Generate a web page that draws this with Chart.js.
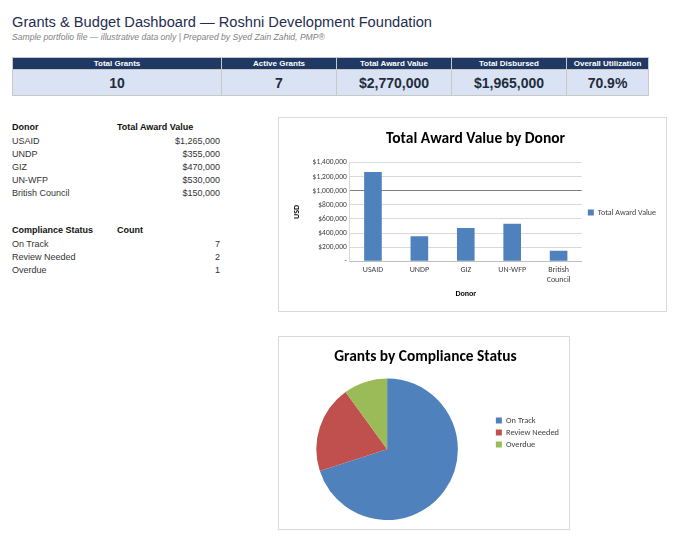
<!DOCTYPE html>
<html lang="en">
<head>
<meta charset="UTF-8">
<title>Grants & Budget Dashboard</title>
<style>
    body { margin: 0; background: #fff; font-family: "Liberation Sans", Arial, sans-serif; width: 680px; height: 543px; position: relative; overflow: hidden; }
    #title { position: absolute; left: 12px; top: 14px; font-size: 14.65px; color: #1f2d50; white-space: nowrap; }
    #subtitle { position: absolute; left: 12px; top: 32px; font-size: 8.6px; font-style: italic; color: #808080; white-space: nowrap; }
    #kpi { position: absolute; left: 12px; top: 57px; border-collapse: collapse; table-layout: fixed; }
    #kpi th { background: #1f3864; color: #fff; font-size: 8px; font-weight: bold; height: 11px; padding: 0; border: 1px solid #c8c8c8; }
    #kpi td { background: #dae3f3; color: #1f2d3d; font-size: 14px; font-weight: bold; height: 25px; padding: 0; text-align: center; border: 1px solid #c8c8c8; }
    .tbl { position: absolute; left: 12px; border-collapse: collapse; font-size: 9px; }
    .tbl th { font-weight: bold; text-align: left; color: #111; padding: 0; height: 14px; }
    .tbl td { color: #333; padding: 0; height: 13px; }
    .tbl td.num { text-align: right; }
    .box { position: absolute; border: 1px solid #d9d9d9; background: #fff; }
</style>
</head>
<body>

<div id="title">Grants &amp; Budget Dashboard — Roshni Development Foundation</div>
<div id="subtitle">Sample portfolio file — illustrative data only | Prepared by Syed Zain Zahid, PMP®</div>

<table id="kpi">
    <colgroup><col style="width:209px"><col style="width:115px"><col style="width:115px"><col style="width:115px"><col style="width:82px"></colgroup>
    <tr id="kpi-head"></tr>
    <tr id="kpi-vals"></tr>
</table>

<table class="tbl" id="donor-tbl" style="top:120px">
    <colgroup><col style="width:105px"><col style="width:103px"></colgroup>
</table>
<table class="tbl" id="status-tbl" style="top:223px">
    <colgroup><col style="width:105px"><col style="width:103px"></colgroup>
</table>

<div class="box" style="left:278px; top:117px; width:387px; height:193px;">
    <canvas id="bar-chart"></canvas>
</div>
<div class="box" style="left:278px; top:336px; width:290px; height:192px;">
    <canvas id="pie-chart"></canvas>
</div>

<script src="https://cdn.jsdelivr.net/npm/chart.js"></script>
<script>
    const kpiLabels = ['Total Grants', 'Active Grants', 'Total Award Value', 'Total Disbursed', 'Overall Utilization'];
    const kpiValues = ['10', '7', '$2,770,000', '$1,965,000', '70.9%'];

    const donors = ['USAID', 'UNDP', 'GIZ', 'UN-WFP', 'British Council'];
    const awardValues = [1265000, 355000, 470000, 530000, 150000];

    const statuses = ['On Track', 'Review Needed', 'Overdue'];
    const statusCounts = [7, 2, 1];

    const blue = '#4f81bd', red = '#c0504d', green = '#9bbb59';
    const chartFont = 'Carlito, Lato, "Open Sans", sans-serif';

    function money(v) {
        return '$' + v.toLocaleString('en-US');
    }

    // KPI strip
    const head = document.getElementById('kpi-head');
    const vals = document.getElementById('kpi-vals');
    kpiLabels.forEach((l, i) => {
        const th = document.createElement('th');
        th.textContent = l;
        head.appendChild(th);
        const td = document.createElement('td');
        td.textContent = kpiValues[i];
        vals.appendChild(td);
    });

    function fillTable(id, h1, h2, names, values, fmt) {
        const t = document.getElementById(id);
        let html = `<tr><th>${h1}</th><th>${h2}</th></tr>`;
        names.forEach((n, i) => {
            html += `<tr><td>${n}</td><td class="num">${fmt(values[i])}</td></tr>`;
        });
        t.insertAdjacentHTML('beforeend', html);
    }
    fillTable('donor-tbl', 'Donor', 'Total Award Value', donors, awardValues, money);
    fillTable('status-tbl', 'Compliance Status', 'Count', statuses, statusCounts, v => v);

    Chart.defaults.font.family = chartFont;
    Chart.defaults.color = '#404040';

    new Chart(document.getElementById('bar-chart'), {
        type: 'bar',
        data: {
            labels: donors.map(d => d === 'British Council' ? ['British', 'Council'] : d),
            datasets: [{
                label: 'Total Award Value',
                data: awardValues,
                backgroundColor: blue,
                barPercentage: 0.38,
                categoryPercentage: 1
            }]
        },
        options: {
            responsive: true,
            maintainAspectRatio: false,
            animation: false,
            layout: { padding: { top: 8, right: 0, bottom: 12, left: 6 } },
            plugins: {
                title: {
                    display: true,
                    text: 'Total Award Value by Donor',
                    color: '#000',
                    font: { size: 15.5, weight: '600' },
                    padding: { top: 4, bottom: 14 }
                },
                legend: {
                    position: 'right',
                    labels: { boxWidth: 6, boxHeight: 6, padding: 6, color: '#404040', font: { size: 8 } }
                },
                tooltip: { enabled: false }
            },
            scales: {
                x: {
                    grid: { display: false, drawTicks: false },
                    border: { color: '#bfbfbf' },
                    ticks: { font: { size: 8 }, color: '#404040', maxRotation: 0, padding: 4 },
                    title: { display: true, text: 'Donor', color: '#000', font: { size: 8, weight: '600' }, padding: { top: 1, bottom: 0 } }
                },
                y: {
                    min: 0,
                    max: 1400000,
                    ticks: {
                        stepSize: 200000,
                        font: { size: 7.5 },
                        color: '#404040',
                        padding: 3,
                        callback: v => v === 0 ? '-' : money(v)
                    },
                    grid: {
                        color: ctx => ctx.tick && ctx.tick.value === 1000000 ? '#7f7f7f' : '#d9d9d9',
                        drawTicks: false
                    },
                    border: { color: '#d9d9d9' },
                    title: { display: true, text: 'USD', color: '#000', font: { size: 8, weight: '600' }, padding: { top: 7, bottom: 8 } }
                }
            }
        }
    });

    new Chart(document.getElementById('pie-chart'), {
        type: 'pie',
        data: {
            labels: statuses,
            datasets: [{
                data: statusCounts,
                backgroundColor: [blue, red, green],
                borderWidth: 0
            }]
        },
        options: {
            responsive: true,
            maintainAspectRatio: false,
            animation: false,
            layout: { padding: { top: 8, right: 0, bottom: 9, left: 3 } },
            plugins: {
                title: {
                    display: true,
                    text: 'Grants by Compliance Status',
                    color: '#000',
                    font: { size: 15.4, weight: '600' },
                    padding: { top: 3, bottom: 12 }
                },
                legend: {
                    position: 'right',
                    align: 'start',
                    title: { display: true, text: ' ', padding: { top: 58, bottom: 0 }, font: { size: 8 } },
                    labels: { boxWidth: 6, boxHeight: 6, padding: 3.6, color: '#404040', font: { size: 8.4 } }
                },
                tooltip: { enabled: false }
            }
        }
    });
</script>

</body>
</html>
